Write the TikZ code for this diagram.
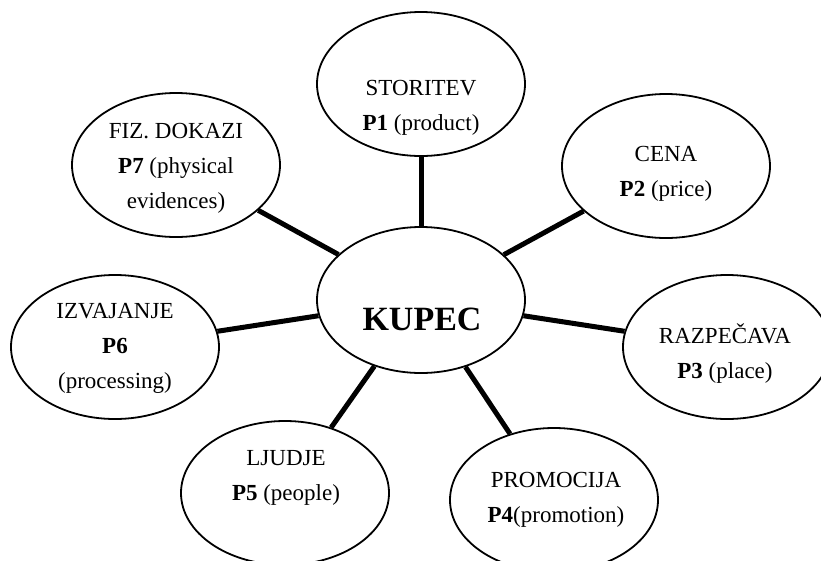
\documentclass[tikz,border=0pt]{standalone}
\usepackage{fontspec}
\setmainfont{Liberation Serif}
\usetikzlibrary{shapes.geometric}
\begin{document}
\begin{tikzpicture}[x=1pt,y=-1pt,
  oval/.style={draw, line width=1.8pt, ellipse, minimum width=208pt, minimum height=144pt, inner sep=0pt},
  lbl/.style={align=center, anchor=base, font=\fontsize{23}{35}\selectfont, inner sep=0pt},
  link/.style={line width=5pt}]
\useasboundingbox (0,0) rectangle (821,560);
% ellipses
\node[oval, minimum height=146pt] (kupec) at (421,300) {};
\node[oval] (stor) at (421,84) {};
\node[oval] (cena) at (666,166) {};
\node[oval] (razp) at (727,347) {};
\node[oval] (prom) at (554,500) {};
\node[oval] (ljud) at (285,493) {};
\node[oval] (izva) at (115,347) {};
\node[oval] (fiz) at (176,165) {};
% connectors
\foreach \n in {stor,cena,razp,prom,ljud,izva,fiz}
  \draw[link] (kupec) -- (\n);
% labels (anchor = baseline of last line)
\node[lbl, font=\fontsize{34}{40}\selectfont\bfseries] (tkupec) at (422,330) {KUPEC};
\node[lbl] (tstor) at (421,130) {STORITEV\\\textbf{P1} (product)};
\node[lbl] (tcena) at (666,196) {CENA\\\textbf{P2} (price)};
\node[lbl] (trazp) at (725,378) {RAZPEČAVA\\\textbf{P3} (place)};
\node[lbl] (tprom) at (556,522) {PROMOCIJA\\\textbf{P4}(promotion)};
\node[lbl] (tljud) at (286,500) {LJUDJE\\\textbf{P5} (people)};
\node[lbl] (tizva) at (115,388) {IZVAJANJE\\\textbf{P6}\\(processing)};
\node[lbl] (tfiz) at (176,208) {FIZ. DOKAZI\\\textbf{P7} (physical\\evidences)};
\end{tikzpicture}
\end{document}
